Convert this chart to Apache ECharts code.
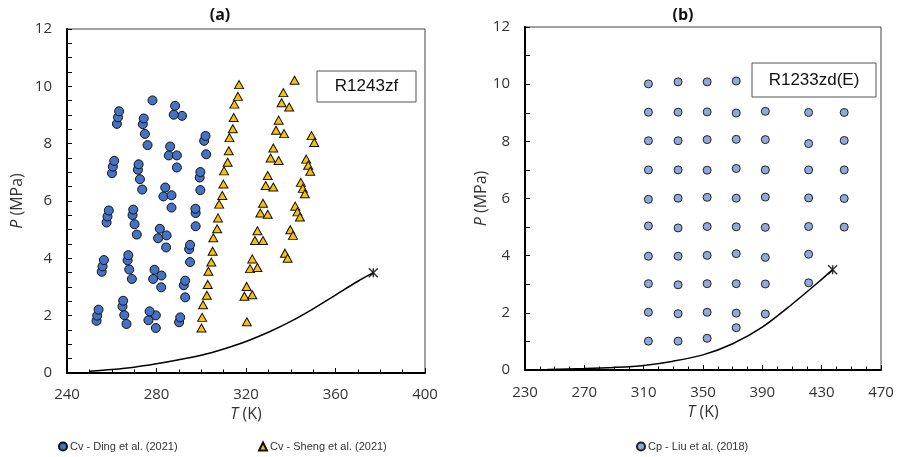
<!DOCTYPE html>
<html>
<head>
<meta charset="utf-8">
<script src="https://cdn.jsdelivr.net/npm/echarts@6.0.0/dist/echarts.min.js"></script>
<style>
  html, body { margin: 0; padding: 0; background: #fff; }
  #chart { width: 898px; height: 457px; }
</style>
</head>
<body>
<div id="chart"></div>
<script>
// (a) R1243zf isochoric heat capacity state points, [T (K), P (MPa)]
const dingCv = [
  [253.2,1.82],[253.5,2.00],[254.1,2.21],[255.5,3.53],[255.9,3.72],[256.5,3.94],[257.7,5.25],[258.1,5.46],
  [258.7,5.67],[260.1,6.97],[260.5,7.20],[261.1,7.40],[262.3,8.69],[262.8,8.92],[263.3,9.13],
  [266.6,1.71],[265.6,2.02],[264.8,2.32],[265.1,2.52],[269.0,3.28],[267.8,3.61],[267.1,3.93],[267.4,4.11],
  [271.2,4.83],[270.2,5.19],[269.3,5.51],[269.6,5.70],[273.6,6.40],[272.6,6.76],[271.7,7.09],[272.0,7.28],
  [276.0,7.95],[274.8,8.34],[273.9,8.68],[274.3,8.88],
  [278.2,9.51],[279.7,1.57],[279.7,2.01],[276.4,1.84],[276.9,2.15],[282.1,2.99],[282.2,3.40],[278.5,3.28],
  [279.1,3.60],[284.3,4.38],[280.7,4.70],[284.5,4.80],[281.5,5.03],[286.7,5.77],[283.1,6.16],[286.7,6.20],
  [283.9,6.47],[289.1,7.17],[285.5,7.59],[289.1,7.59],[286.1,7.90],[291.4,8.97],[287.7,9.01],[288.3,9.32],
  [290.1,1.77],[290.6,1.94],[292.8,2.64],[292.2,3.06],[292.8,3.22],[295.0,3.87],[294.6,4.32],[295.0,4.47],
  [297.5,5.12],[297.5,5.58],[297.4,5.73],[299.6,6.38],[299.3,6.82],[299.6,7.01],[302.2,7.63],[301.3,8.10],
  [301.9,8.27]
];
const shengCv = [
  [300.1,1.57],[300.4,1.94],[300.8,2.38],[302.5,2.71],[302.9,3.09],[303.2,3.55],[304.5,3.87],[305.1,4.25],
  [305.4,4.72],[307.1,5.03],[307.5,5.41],[308.0,5.89],[309.4,6.19],[309.9,6.59],[310.2,7.05],[311.8,7.35],
  [312.3,7.75],[312.6,8.21],[314.1,8.52],[314.5,8.91],[314.8,9.38],[316.4,9.65],[316.9,10.06],
  [320.4,1.79],[319.3,2.68],[320.3,3.02],[322.8,2.73],[321.8,3.64],[322.8,3.98],[325.1,3.68],[324.0,4.62],
  [325.1,4.96],[327.6,4.62],[326.4,5.58],[327.6,5.92],[329.7,5.54],[328.8,6.54],[329.7,6.89],[332.2,6.49],
  [331.0,7.50],[332.2,7.85],[334.6,7.41],[333.4,8.47],[334.6,8.82],[337.0,8.35],[335.9,9.43],[336.7,9.78],
  [339.3,9.28],[341.7,10.21],
  [337.4,4.18],[338.6,4.00],[339.8,5.00],[341.0,4.80],[342.0,5.82],[343.0,5.62],[344.1,5.44],[344.5,6.65],
  [345.4,6.44],[346.3,6.25],[346.9,7.46],[347.8,7.25],[348.7,7.04],[349.3,8.28],[350.5,8.04]
];
// R1243zf saturation pressure curve and critical point
const satR1243zf = [
  [250,0.06],[260,0.12],[270,0.20],[280,0.32],[290,0.46],[300,0.62],[310,0.84],[320,1.10],
  [330,1.42],[340,1.80],[350,2.24],[360,2.72],[370,3.20],[376.9,3.50]
];
const critR1243zf = [[376.9,3.50]];

// (b) R1233zd(E) isobaric heat capacity state points, [T (K), P (MPa)]
const liuCp = [
  [313.2,10.01],[313.2,9.02],[313.2,8.02],[313.2,7.00],[313.2,5.97],[313.2,5.04],[313.2,3.98],[313.2,3.02],[313.2,2.02],[313.2,1.01],
  [333.2,10.08],[333.2,9.02],[333.2,8.02],[333.2,7.00],[333.2,6.01],[333.2,4.97],[333.2,3.98],[333.2,2.98],[333.2,1.97],[333.2,1.01],
  [352.8,10.08],[352.8,9.03],[352.8,8.06],[352.8,6.99],[352.8,6.04],[352.8,5.02],[352.8,4.01],[352.8,3.02],[352.8,2.02],[352.8,1.11],
  [372.4,10.11],[372.4,8.99],[372.4,8.07],[372.4,7.05],[372.4,6.01],[372.4,5.01],[372.4,4.07],[372.4,3.02],[372.4,1.99],[372.4,1.48],
  [392.0,9.05],[392.0,8.06],[392.0,7.00],[392.0,6.05],[392.0,4.99],[392.0,3.94],[392.0,3.01],[392.0,1.96],
  [421.2,9.01],[421.2,7.92],[421.2,7.00],[421.2,6.02],[421.2,5.02],[421.2,4.05],[421.2,3.05],
  [445.2,9.01],[445.2,8.03],[445.2,7.00],[445.2,6.00],[445.2,5.00]
];
// R1233zd(E) saturation pressure curve and critical point
const satR1233zdE = [
  [245,0.02],[270,0.05],[290,0.09],[310,0.16],[330,0.31],[350,0.53],[370,0.92],
  [390,1.50],[410,2.30],[430,3.17],[437.4,3.51]
];
const critR1233zdE = [[437.4,3.51]];

// Axis ranges and tick steps
const xRangeA = [240, 400], xStepA = 40;
const xRangeB = [230, 470], xStepB = 40;
const yRange = [0, 12], yStep = 2;

const labelFont = "'Open Sans', 'Liberation Sans', sans-serif";
const legendFont = "'Liberation Sans Narrow', 'Liberation Sans', sans-serif";
const starPath = 'path://M0,0L10,10M10,0L0,10M5,0L5,10';

function xAxis(grid, range, step, margin, gap) {
  return {
    gridIndex: grid, type: 'value', min: range[0], max: range[1], interval: step,
    name: '{i|T} (K)', nameLocation: 'middle', nameGap: gap,
    nameTextStyle: { color: '#333', fontSize: 16, fontFamily: labelFont,
      rich: { i: { fontStyle: 'italic', fontSize: 16, color: '#333', fontFamily: labelFont } } },
    axisLine: { show: true, onZero: false, lineStyle: { color: '#000', width: 2 } },
    axisTick: { show: true, inside: true, length: 5, lineStyle: { color: '#000', width: 1 } },
    minorTick: { show: true, splitNumber: 4, length: 3.5, lineStyle: { color: '#000', width: 1 } },
    axisLabel: { color: '#333', fontSize: 15, fontFamily: labelFont, margin: margin },
    splitLine: { show: false }
  };
}
function yAxis(grid, minorSplit, gap) {
  return {
    gridIndex: grid, type: 'value', min: yRange[0], max: yRange[1], interval: yStep,
    name: '{i|P} (MPa)', nameLocation: 'middle', nameRotate: 90, nameGap: gap,
    nameTextStyle: { color: '#333', fontSize: 16, fontFamily: labelFont,
      rich: { i: { fontStyle: 'italic', fontSize: 16, color: '#333', fontFamily: labelFont } } },
    axisLine: { show: true, onZero: false, lineStyle: { color: '#000', width: 2 } },
    axisTick: { show: true, inside: true, length: 5, lineStyle: { color: '#000', width: 1 } },
    minorTick: { show: true, splitNumber: minorSplit, length: 5, lineStyle: { color: '#000', width: 1 } },
    axisLabel: { color: '#333', fontSize: 15, fontFamily: labelFont, margin: 15 },
    splitLine: { show: false }
  };
}

function labelBox(x, y, w, h, text) {
  return {
    type: 'group', x: x, y: y,
    children: [
      { type: 'rect', shape: { x: 0, y: 0, width: w, height: h },
        style: { fill: '#fff', stroke: '#555', lineWidth: 1 } },
      { type: 'text', x: w / 2, y: h / 2,
        style: { text: text, fill: '#111', fontSize: 17, fontFamily: "'Liberation Sans', Arial, sans-serif",
          align: 'center', verticalAlign: 'middle' } }
    ]
  };
}

const chart = echarts.init(document.getElementById('chart'), null, { renderer: 'canvas' });
chart.setOption({
  backgroundColor: '#fff',
  animation: false,
  grid: [
    { left: 67, top: 29, width: 358, height: 344, show: true, borderColor: '#444', borderWidth: 1 },
    { left: 525, top: 27, width: 356, height: 343, show: true, borderColor: '#444', borderWidth: 1 }
  ],
  xAxis: [ xAxis(0, xRangeA, xStepA, 14, 30), xAxis(1, xRangeB, xStepB, 15, 33) ],
  yAxis: [ yAxis(0, 4, 42), yAxis(1, 2, 32) ],
  legend: [
    { data: ['Cv - Ding et al. (2021)'], left: 53, top: 436, itemWidth: 8, itemHeight: 8,
      textStyle: { fontSize: 11, color: '#333', fontFamily: legendFont, padding: [0, 0, 0, -2] } },
    { data: ['Cv - Sheng et al. (2021)'], left: 253, top: 436, itemWidth: 8, itemHeight: 8,
      textStyle: { fontSize: 11, color: '#333', fontFamily: legendFont, padding: [0, 0, 0, -2] } },
    { data: ['Cp - Liu et al. (2018)'], left: 631, top: 436, itemWidth: 8, itemHeight: 8,
      textStyle: { fontSize: 11, color: '#333', fontFamily: legendFont, padding: [0, 0, 0, -2] } }
  ],
  graphic: [
    { type: 'text', x: 220, y: 15, style: { text: '(a)', fontSize: 16, fontWeight: 'bold', fill: '#111',
      fontFamily: labelFont, align: 'center', verticalAlign: 'middle' } },
    { type: 'text', x: 683, y: 15, style: { text: '(b)', fontSize: 16, fontWeight: 'bold', fill: '#111',
      fontFamily: labelFont, align: 'center', verticalAlign: 'middle' } },
    labelBox(317, 71, 99, 31, 'R1243zf'),
    labelBox(752, 63, 124, 34, 'R1233zd(E)')
  ],
  series: [
    { name: 'saturation R1243zf', type: 'line', xAxisIndex: 0, yAxisIndex: 0, data: satR1243zf,
      smooth: 0.3, showSymbol: false, silent: true, lineStyle: { color: '#000', width: 1.5 } },
    { name: 'critical R1243zf', type: 'scatter', xAxisIndex: 0, yAxisIndex: 0, data: critR1243zf,
      symbol: starPath, symbolSize: 9, itemStyle: { color: 'none', borderColor: '#000', borderWidth: 1.5 } },
    { name: 'Cv - Ding et al. (2021)', type: 'scatter', xAxisIndex: 0, yAxisIndex: 0, data: dingCv,
      symbol: 'circle', symbolSize: 9, itemStyle: { color: '#4472C4', borderColor: '#111', borderWidth: 1, opacity: 1 } },
    { name: 'Cv - Sheng et al. (2021)', type: 'scatter', xAxisIndex: 0, yAxisIndex: 0, data: shengCv,
      symbol: 'triangle', symbolSize: [9, 8], itemStyle: { color: '#FFC000', borderColor: '#111', borderWidth: 1, opacity: 1 } },
    { name: 'saturation R1233zd(E)', type: 'line', xAxisIndex: 1, yAxisIndex: 1, data: satR1233zdE,
      smooth: 0.3, showSymbol: false, silent: true, lineStyle: { color: '#000', width: 1.5 } },
    { name: 'critical R1233zd(E)', type: 'scatter', xAxisIndex: 1, yAxisIndex: 1, data: critR1233zdE,
      symbol: starPath, symbolSize: 9, itemStyle: { color: 'none', borderColor: '#000', borderWidth: 1.5 } },
    { name: 'Cp - Liu et al. (2018)', type: 'scatter', xAxisIndex: 1, yAxisIndex: 1, data: liuCp,
      symbol: 'circle', symbolSize: 8, itemStyle: { color: '#8EA9DB', borderColor: '#222', borderWidth: 1, opacity: 1 } }
  ]
});
</script>
</body>
</html>
